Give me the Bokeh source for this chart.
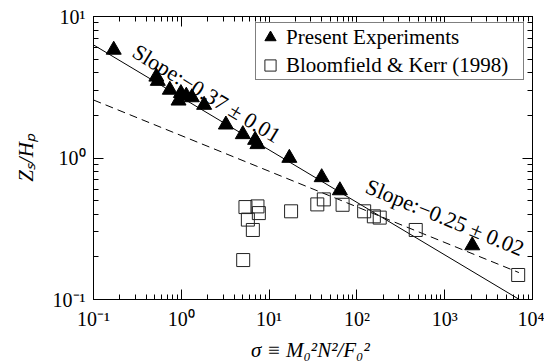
from bokeh.plotting import figure
from bokeh.models import (LogAxis, FixedTicker, CustomJSTickFormatter, Label,
                          Legend, LegendItem)
from bokeh.embed import file_html
from bokeh.resources import INLINE

# ---- data ----
present_sigma = [0.17, 0.52, 0.54, 0.74, 0.99, 0.93, 1.14, 1.32, 1.82, 3.22,
                 5.02, 6.93, 7.36, 17.0, 39.7, 64.0, 2060.0]
present_zs = [5.81, 3.75, 3.50, 3.03, 2.87, 2.54, 2.75, 2.68, 2.37, 1.72,
              1.47, 1.34, 1.25, 1.00, 0.73, 0.59, 0.241]

bk_sigma = [5.38, 7.37, 7.64, 5.73, 6.53, 5.07, 17.8, 35.4, 42.0, 68.7,
            121.0, 156.0, 182.0, 468.0, 6870.0]
bk_zs = [0.45, 0.455, 0.408, 0.367, 0.31, 0.19, 0.42, 0.47, 0.51, 0.467,
         0.42, 0.387, 0.379, 0.31, 0.149]

# fitted power laws (end points of the drawn lines)
fit_solid_sigma = [0.1, 1.0e4]
fit_solid_zs = [6.3, 0.088]
fit_dash_sigma = [0.1, 7000.0]
fit_dash_zs = [2.57, 0.155]
slope_solid = -0.371
slope_dash = -0.25

x_major = [0.1, 1, 10, 100, 1000, 10000]
x_labels = ["10⁻¹", "10⁰", "10¹", "10²", "10³", "10⁴"]
y_major = [0.1, 1, 10]
y_labels = ["10⁻¹", "10⁰", "10¹"]

x_minor = [m * d for d in [0.1, 1, 10, 100, 1000] for m in range(2, 10)]
y_minor = [m * d for d in [0.1, 1] for m in range(2, 10)]

FONT = "Liberation Serif"
FS = "20px"
FS_TXT = "21px"

p = figure(width=544, height=364, x_axis_type="log", y_axis_type="log",
           x_range=(0.1, 1e4), y_range=(0.1, 10),
           output_backend="svg", toolbar_location=None,
           min_border_left=93, min_border_right=12, min_border_top=16,
           min_border_bottom=60)
p.xgrid.visible = False
p.ygrid.visible = False
p.outline_line_color = "black"
p.background_fill_color = "white"
p.border_fill_color = "white"

fmt_js = """
let best = 0, bd = Infinity;
for (let i = 0; i < vals.length; i++) {
  const d = Math.abs(Math.log10(tick) - Math.log10(vals[i]));
  if (d < bd) { bd = d; best = i; }
}
return labs[best];
"""

def style_axis(ax, show_labels):
    ax.axis_line_color = "black"
    ax.major_tick_line_color = "black"
    ax.minor_tick_line_color = "black"
    ax.major_tick_in = 10
    ax.major_tick_out = 0
    ax.minor_tick_in = 5
    ax.minor_tick_out = 0
    if show_labels:
        ax.major_label_text_font = FONT
        ax.major_label_text_font_size = FS
        ax.major_label_text_color = "black"
        ax.major_label_standoff = 8
        ax.axis_label_text_font = FONT
        ax.axis_label_text_font_size = FS_TXT
        ax.axis_label_text_font_style = "italic"
        ax.axis_label_text_color = "black"
    else:
        ax.major_label_text_font_size = "1px"
        ax.major_label_text_color = None
        ax.major_label_standoff = 0

xt = FixedTicker(ticks=x_major, minor_ticks=x_minor)
yt = FixedTicker(ticks=y_major, minor_ticks=y_minor)

xa = p.xaxis[0]
xa.ticker = xt
xa.formatter = CustomJSTickFormatter(args=dict(vals=x_major, labs=x_labels), code=fmt_js)
xa.axis_label = "σ  ≡ M₀²N²/F₀²"
style_axis(xa, True)
xa.axis_label_standoff = 5

ya = p.yaxis[0]
ya.ticker = yt
ya.formatter = CustomJSTickFormatter(args=dict(vals=y_major, labs=y_labels), code=fmt_js)
ya.axis_label = "Zₛ/Hₚ"
style_axis(ya, True)
ya.axis_label_standoff = 12

top = LogAxis(ticker=FixedTicker(ticks=x_major, minor_ticks=x_minor))
style_axis(top, False)
p.add_layout(top, "above")
right = LogAxis(ticker=FixedTicker(ticks=y_major, minor_ticks=y_minor))
style_axis(right, False)
p.add_layout(right, "right")

# lines
p.line(fit_solid_sigma, fit_solid_zs, line_color="black", line_width=1)
p.line(fit_dash_sigma, fit_dash_zs, line_color="black", line_width=1,
       line_dash="8 5")

# points
r_sq = p.scatter(bk_sigma, bk_zs, marker="square", size=13,
                 fill_color=None, line_color="#222222", line_width=1)
r_tri = p.scatter(present_sigma, present_zs, marker="triangle", size=15,
                  fill_color="black", line_color="black")

# slope annotations along the fits
def on_line(x, x0, y0, slope):
    return y0 * (x / x0) ** slope

lx1 = 0.233
p.add_layout(Label(x=lx1, y=on_line(lx1, fit_solid_sigma[0], fit_solid_zs[0], slope_solid),
                   text="Slope:−0.37 ± 0.01", angle=-31.3, angle_units="deg",
                   text_align="left", text_baseline="bottom",
                   x_offset=2.3, y_offset=3.8,
                   text_font=FONT, text_font_size="22px", text_color="black"))
lx2 = 103.5
p.add_layout(Label(x=lx2, y=on_line(lx2, fit_dash_sigma[0], fit_dash_zs[0], slope_dash),
                   text="Slope:−0.25 ± 0.02", angle=-22.3, angle_units="deg",
                   text_align="left", text_baseline="bottom",
                   x_offset=4.0, y_offset=9.7,
                   text_font=FONT, text_font_size="22px", text_color="black"))

legend = Legend(items=[LegendItem(label="Present Experiments", renderers=[r_tri]),
                       LegendItem(label="Bloomfield & Kerr (1998)", renderers=[r_sq])],
                location=(162, 219), orientation="vertical",
                padding=0, spacing=-4, margin=0,
                glyph_width=28, glyph_height=28, label_standoff=2,
                label_width=237, label_height=20,
                border_line_color="black", border_line_width=1,
                background_fill_color="white", background_fill_alpha=1.0)
legend.label_text_font = FONT
legend.label_text_font_size = FS_TXT
legend.label_text_font_style = "normal"
legend.label_text_color = "black"
p.add_layout(legend)

open("out.html", "w").write(file_html(p, INLINE))
